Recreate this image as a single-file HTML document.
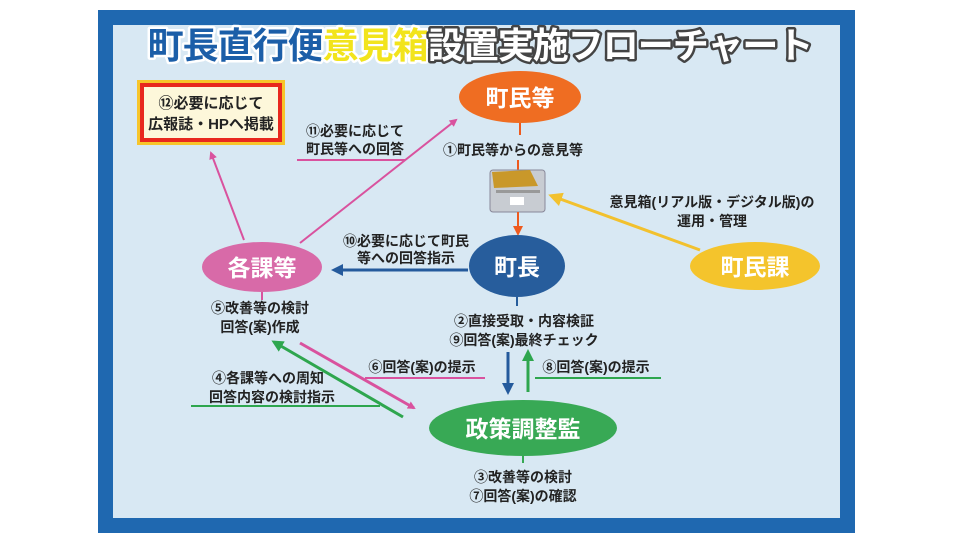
<!DOCTYPE html>
<html><head><meta charset="utf-8"><style>
body{margin:0;background:#fff;}
svg text{font-family:"Liberation Sans","Noto Sans CJK JP",sans-serif;font-weight:bold;}
</style></head><body>
<svg width="960" height="540" viewBox="0 0 960 540" xmlns="http://www.w3.org/2000/svg">
<defs>
<marker id="ap" markerWidth="8" markerHeight="8" refX="6" refY="4" orient="auto" markerUnits="userSpaceOnUse"><path d="M0,0 L8,4 L0,8 Z" fill="#d9529e"/></marker>
<marker id="ab" markerWidth="12" markerHeight="12" refX="9" refY="6" orient="auto" markerUnits="userSpaceOnUse"><path d="M0,0 L12,6 L0,12 Z" fill="#245a9c"/></marker>
<marker id="ag" markerWidth="12" markerHeight="12" refX="9" refY="6" orient="auto" markerUnits="userSpaceOnUse"><path d="M0,0 L12,6 L0,12 Z" fill="#2ea64e"/></marker>
<marker id="ay" markerWidth="14" markerHeight="14" refX="10" refY="7" orient="auto" markerUnits="userSpaceOnUse"><path d="M0,0 L14,7 L0,14 Z" fill="#f2c12e"/></marker>
<marker id="ao" markerWidth="10" markerHeight="10" refX="8" refY="5" orient="auto" markerUnits="userSpaceOnUse"><path d="M0,0 L10,5 L0,10 Z" fill="#ee5a1e"/></marker>
</defs>
<rect x="98" y="10" width="757" height="523" fill="#1f68b0"/>
<rect x="113" y="25" width="727" height="493" fill="#d8e8f3"/>
<text x="480" y="58" text-anchor="middle" font-size="36" stroke-width="5" stroke-linejoin="round" paint-order="stroke" letter-spacing="-1"><tspan fill="#1b5ea8" stroke="#fff">町長直行便</tspan><tspan fill="#f2e41c" stroke="#fff">意見箱</tspan><tspan fill="#fff" stroke="#444">設置実施フローチャート</tspan></text>
<rect x="137" y="80" width="148" height="65" fill="#f7c52a"/>
<rect x="140" y="83" width="142" height="59" fill="#e8281e"/>
<rect x="144" y="87" width="134" height="51" fill="#fdf7da"/>
<text x="211" y="108" text-anchor="middle" font-size="15" fill="#222">⑫必要に応じて</text>
<text x="211" y="129" text-anchor="middle" font-size="15" fill="#222">広報誌・HPへ掲載</text>
<ellipse cx="520" cy="97" rx="61" ry="26" fill="#ef6d22"/>
<text x="520" y="106" text-anchor="middle" font-size="23" fill="#fff">町民等</text>
<line x1="520" y1="123" x2="520" y2="135" stroke="#ee5a1e" stroke-width="2"/>
<text x="513" y="155" text-anchor="middle" font-size="14" fill="#222">①町民等からの意見等</text>
<line x1="518" y1="160" x2="518" y2="172" stroke="#ee5a1e" stroke-width="2"/>
<rect x="490" y="170" width="55" height="42" rx="3" fill="#c8ccd2" stroke="#889" stroke-width="1"/>
<polygon points="492,172 530,170 538,186 494,188" fill="#c9982a"/>
<rect x="496" y="190" width="44" height="3" fill="#999"/>
<rect x="510" y="197" width="14" height="8" fill="#fff"/>
<line x1="518" y1="212" x2="518" y2="234" stroke="#ee5a1e" stroke-width="2" marker-end="url(#ao)"/>
<ellipse cx="517" cy="266" rx="48" ry="31" fill="#275d9c"/>
<text x="517" y="275" text-anchor="middle" font-size="23" fill="#fff">町長</text>
<line x1="517" y1="297" x2="517" y2="306" stroke="#275d9c" stroke-width="2"/>
<text x="524" y="326" text-anchor="middle" font-size="14" fill="#222">②直接受取・内容検証</text>
<text x="524" y="345" text-anchor="middle" font-size="14" fill="#222">⑨回答(案)最終チェック</text>
<ellipse cx="755" cy="266" rx="65" ry="24" fill="#f4c42c"/>
<text x="755" y="275" text-anchor="middle" font-size="23" fill="#fff">町民課</text>
<line x1="700" y1="250" x2="552" y2="196" stroke="#f2c12e" stroke-width="3" marker-end="url(#ay)"/>
<text x="712" y="207" text-anchor="middle" font-size="14" fill="#222">意見箱(リアル版・デジタル版)の</text>
<text x="712" y="226" text-anchor="middle" font-size="14" fill="#222">運用・管理</text>
<ellipse cx="262" cy="267" rx="60" ry="25" fill="#d86aa8"/>
<text x="262" y="276" text-anchor="middle" font-size="23" fill="#fff">各課等</text>
<line x1="468" y1="270" x2="334" y2="270" stroke="#245a9c" stroke-width="3" marker-end="url(#ab)"/>
<text x="406" y="246" text-anchor="middle" font-size="14" fill="#222">⑩必要に応じて町民</text>
<text x="406" y="263" text-anchor="middle" font-size="14" fill="#222">等への回答指示</text>
<line x1="300" y1="243" x2="456" y2="120" stroke="#d9529e" stroke-width="2" marker-end="url(#ap)"/>
<line x1="244" y1="240" x2="211" y2="153" stroke="#d9529e" stroke-width="2" marker-end="url(#ap)"/>
<text x="355" y="136" text-anchor="middle" font-size="14" fill="#222">⑪必要に応じて</text>
<text x="355" y="154" text-anchor="middle" font-size="14" fill="#222">町民等への回答</text>
<line x1="297" y1="160" x2="405" y2="160" stroke="#d9529e" stroke-width="2"/>
<line x1="262" y1="292" x2="262" y2="300" stroke="#d9529e" stroke-width="2"/>
<text x="260" y="313" text-anchor="middle" font-size="14" fill="#222">⑤改善等の検討</text>
<text x="260" y="332" text-anchor="middle" font-size="14" fill="#222">回答(案)作成</text>
<line x1="300" y1="343" x2="414" y2="408" stroke="#d9529e" stroke-width="3" marker-end="url(#ap)"/>
<line x1="403" y1="417" x2="274" y2="342" stroke="#2ea64e" stroke-width="3" marker-end="url(#ag)"/>
<text x="422" y="372" text-anchor="middle" font-size="14" fill="#222">⑥回答(案)の提示</text>
<line x1="365" y1="378" x2="485" y2="378" stroke="#d9529e" stroke-width="2"/>
<text x="268" y="383" text-anchor="middle" font-size="14" fill="#222">④各課等への周知</text>
<text x="272" y="402" text-anchor="middle" font-size="14" fill="#222">回答内容の検討指示</text>
<line x1="191" y1="406" x2="380" y2="406" stroke="#2ea64e" stroke-width="2"/>
<line x1="508" y1="352" x2="508" y2="392" stroke="#245a9c" stroke-width="3" marker-end="url(#ab)"/>
<line x1="528" y1="392" x2="528" y2="352" stroke="#2ea64e" stroke-width="3" marker-end="url(#ag)"/>
<text x="596" y="372" text-anchor="middle" font-size="14" fill="#222">⑧回答(案)の提示</text>
<line x1="535" y1="378" x2="661" y2="378" stroke="#2ea64e" stroke-width="2"/>
<ellipse cx="523" cy="428" rx="94" ry="28" fill="#38a955"/>
<text x="523" y="437" text-anchor="middle" font-size="23" fill="#fff">政策調整監</text>
<line x1="523" y1="456" x2="523" y2="463" stroke="#38a955" stroke-width="2"/>
<text x="523" y="482" text-anchor="middle" font-size="14" fill="#222">③改善等の検討</text>
<text x="523" y="501" text-anchor="middle" font-size="14" fill="#222">⑦回答(案)の確認</text>
</svg>
</body></html>
